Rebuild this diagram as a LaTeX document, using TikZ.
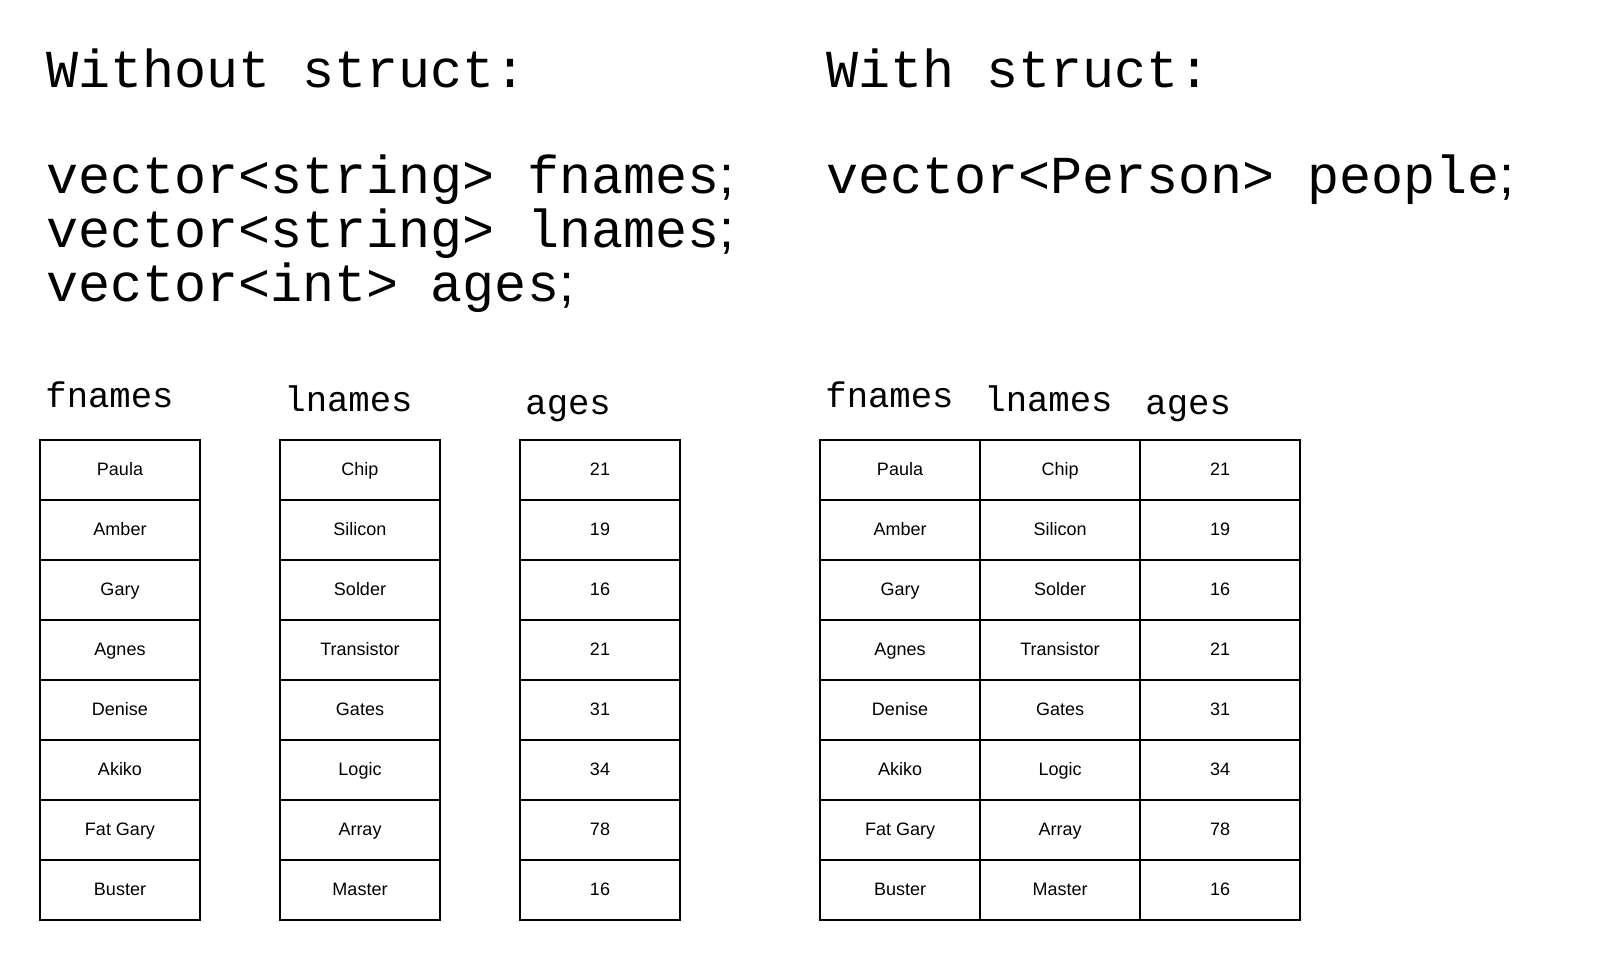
\documentclass[tikz,border=0pt]{standalone}
\usepackage{fontspec}
\setmainfont{Liberation Sans}
\setmonofont{Liberation Mono}
\newfontfamily\semifont{Liberation Sans}
\newcommand{\scol}{{\semifont ;}}

\begin{document}
\begin{tikzpicture}[x=0.5pt,y=-0.5pt,node distance=30pt,
  cell/.style={rectangle,draw,line width=1pt,outer sep=0pt,minimum width=80pt,minimum height=30pt,text height=7pt,text depth=2pt,font=\fontsize{9}{11}\selectfont},
  code/.style={anchor=base west,inner sep=0pt,font=\ttfamily\fontsize{26.7}{30}\selectfont},
  head/.style={anchor=base west,inner sep=0pt,font=\ttfamily\fontsize{17.8}{20}\selectfont}]
  \useasboundingbox (0,0) rectangle (1620,960);

  % code on top
  \node[code] (t1) at (46,87) {Without struct:};
  \node[code] (c1) at (46,193) {vector<string> fnames\scol};
  \node[code] (c2) at (46,247) {vector<string> lnames\scol};
  \node[code] (c3) at (46,301) {vector<int> ages\scol};
  \node[code] (t2) at (826,87) {With struct:};
  \node[code] (c4) at (826,193) {vector<Person> people\scol};

  % separate vectors
  \node[head] (hf) at (45,407) {fnames};
  \node[head] (hl) at (284,411) {lnames};
  \node[head] (ha) at (525,414) {ages};

  \node[cell] (f1) at (120,470) {Paula};
  \node[cell] (f2) [below of=f1] {Amber};
  \node[cell] (f3) [below of=f2] {Gary};
  \node[cell] (f4) [below of=f3] {Agnes};
  \node[cell] (f5) [below of=f4] {Denise};
  \node[cell] (f6) [below of=f5] {Akiko};
  \node[cell] (f7) [below of=f6] {Fat Gary};
  \node[cell] (f8) [below of=f7] {Buster};

  \node[cell] (l1) at (360,470) {Chip};
  \node[cell] (l2) [below of=l1] {Silicon};
  \node[cell] (l3) [below of=l2] {Solder};
  \node[cell] (l4) [below of=l3] {Transistor};
  \node[cell] (l5) [below of=l4] {Gates};
  \node[cell] (l6) [below of=l5] {Logic};
  \node[cell] (l7) [below of=l6] {Array};
  \node[cell] (l8) [below of=l7] {Master};

  \node[cell] (a1) at (600,470) {21};
  \node[cell] (a2) [below of=a1] {19};
  \node[cell] (a3) [below of=a2] {16};
  \node[cell] (a4) [below of=a3] {21};
  \node[cell] (a5) [below of=a4] {31};
  \node[cell] (a6) [below of=a5] {34};
  \node[cell] (a7) [below of=a6] {78};
  \node[cell] (a8) [below of=a7] {16};

  % one vector of structs
  \node[head] (phf) at (825,407) {fnames};
  \node[head] (phl) at (984,411) {lnames};
  \node[head] (pha) at (1145,414) {ages};

  \node[cell] (pf1) at (900,470) {Paula};
  \node[cell] (pf2) [below of=pf1] {Amber};
  \node[cell] (pf3) [below of=pf2] {Gary};
  \node[cell] (pf4) [below of=pf3] {Agnes};
  \node[cell] (pf5) [below of=pf4] {Denise};
  \node[cell] (pf6) [below of=pf5] {Akiko};
  \node[cell] (pf7) [below of=pf6] {Fat Gary};
  \node[cell] (pf8) [below of=pf7] {Buster};

  \node[cell] (pl1) [right of=pf1,node distance=80pt] {Chip};
  \node[cell] (pl2) [below of=pl1] {Silicon};
  \node[cell] (pl3) [below of=pl2] {Solder};
  \node[cell] (pl4) [below of=pl3] {Transistor};
  \node[cell] (pl5) [below of=pl4] {Gates};
  \node[cell] (pl6) [below of=pl5] {Logic};
  \node[cell] (pl7) [below of=pl6] {Array};
  \node[cell] (pl8) [below of=pl7] {Master};

  \node[cell] (pa1) [right of=pl1,node distance=80pt] {21};
  \node[cell] (pa2) [below of=pa1] {19};
  \node[cell] (pa3) [below of=pa2] {16};
  \node[cell] (pa4) [below of=pa3] {21};
  \node[cell] (pa5) [below of=pa4] {31};
  \node[cell] (pa6) [below of=pa5] {34};
  \node[cell] (pa7) [below of=pa6] {78};
  \node[cell] (pa8) [below of=pa7] {16};
\end{tikzpicture}
\end{document}
